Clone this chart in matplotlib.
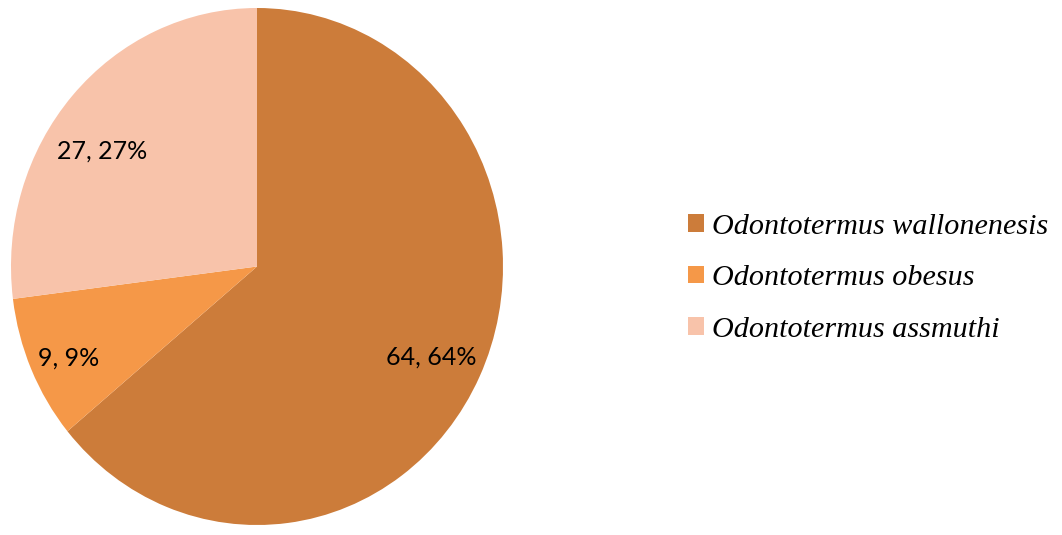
import numpy as np
import matplotlib.pyplot as plt

species = ['Odontotermus wallonenesis', 'Odontotermus obesus', 'Odontotermus assmuthi']
counts = [64, 9, 27]
colors = ['#CC7C3A', '#F59848', '#F8C3AA']

# where the data labels sit (radius, angle in degrees), like the "best fit" placement
label_pos = [(0.79, -26.3), (0.845, -155.3), (0.772, 144.7)]


def label_fmt(pct):
    n = int(round(pct * sum(counts) / 100.0))
    return f'{n}, {pct:.0f}%'


fig = plt.figure(figsize=(10.62, 5.35), dpi=100)
ax = fig.add_axes([11 / 1062, 10 / 535, 492 / 1062, 517 / 535])

wedges, texts, autotexts = ax.pie(counts, colors=colors, startangle=90, counterclock=False,
                                  autopct=label_fmt, pctdistance=0.8,
                                  wedgeprops=dict(linewidth=0))
for t, (r, ang) in zip(autotexts, label_pos):
    t.set_fontfamily('Lato')
    t.set_fontsize(18)
    t.set_color('black')
    t.set_position((r * np.cos(np.radians(ang)), r * np.sin(np.radians(ang))))

ax.set_aspect('auto')
ax.set_xlim(-1, 1)
ax.set_ylim(-1, 1)
ax.axis('off')

fig.legend(wedges, species, loc='center left', bbox_to_anchor=(688 / 1062, 0.480),
           frameon=False, borderpad=0, borderaxespad=0,
           handlelength=0.53, handleheight=0.53, handletextpad=0.27, labelspacing=0.85,
           prop=dict(family='Liberation Serif', style='italic', size=21.7))

fig.savefig('out.png', dpi=100)
